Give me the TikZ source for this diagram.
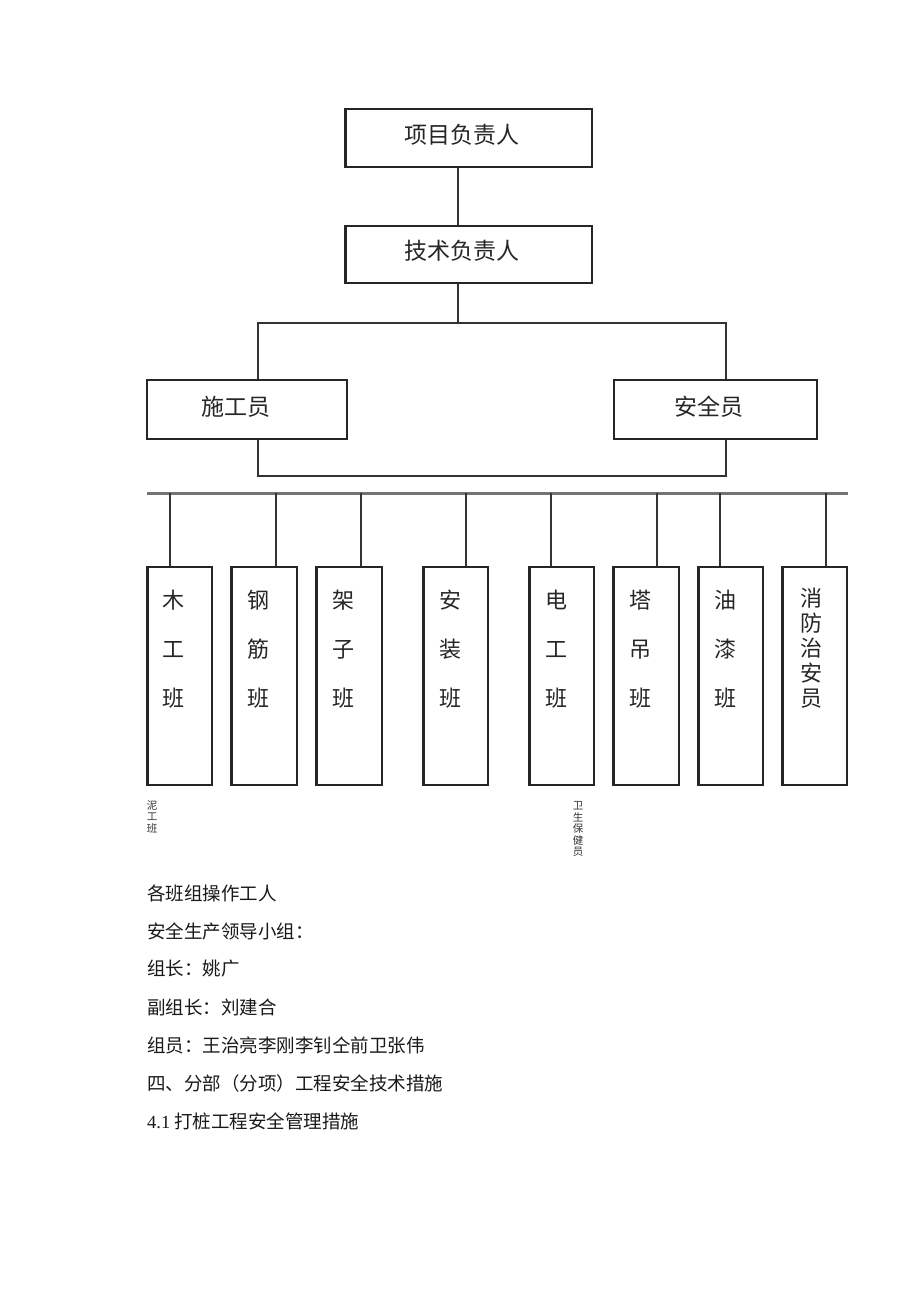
\documentclass[tikz,border=0pt]{standalone}
\usepackage{fontspec}
\setmainfont{Liberation Serif}
\newfontfamily\cjk{Noto Sans CJK SC}
\begin{document}
\begin{tikzpicture}[x=1pt,y=-1pt,
  box/.style={draw=black!85, line width=1.5pt, rectangle, inner sep=0pt},
  ln/.style={draw=black!80, line width=1.5pt},
  barln/.style={draw=black!55, line width=3pt},
  big/.style={font=\cjk\fontsize{23}{26}\selectfont, text=black!85},
  vt3/.style={font=\cjk\fontsize{22}{49}\selectfont, align=center, text=black!85, inner sep=0pt},
  vt5/.style={font=\cjk\fontsize{22}{25}\selectfont, align=center, text=black!85, inner sep=0pt},
  small/.style={font=\cjk\fontsize{10.5}{11.6}\selectfont, align=center, text=black!80, inner sep=0pt},
  para/.style={font=\cjk\fontsize{18.5}{22}\selectfont, anchor=west, inner sep=0pt, text=black!90}
]
\useasboundingbox (0,0) rectangle (920,1302);
\fill[white] (0,0) rectangle (920,1302);

% top boxes
\node[box, minimum width=246pt, minimum height=58pt] (pm) at (469,138) {};
\node[big] (pmt) at (462,135) {项目负责人};
\node[box, minimum width=246pt, minimum height=57pt] (tech) at (469,254.5) {};
\node[big] (techt) at (462,251) {技术负责人};
\draw[line width=3pt, black!85] (pm.north west) -- (pm.south west);
\draw[line width=3pt, black!85] (tech.north west) -- (tech.south west);
\draw[ln] (pm.south -| 458,0) -- (tech.north -| 458,0);

% middle boxes
\node[box, minimum width=200pt, minimum height=59pt] (sg) at (247,409.5) {};
\node[big] (sgt) at (236,407) {施工员};
\node[box, minimum width=203pt, minimum height=59pt] (aq) at (715.5,409.5) {};
\node[big] (aqt) at (709,407) {安全员};

\coordinate (cL) at (258,323);
\coordinate (cR) at (726,323);
\coordinate (cM) at (458,323);
\draw[ln] (tech.south -| cM) -- (cM);
\draw[ln] (sg.north -| cL) -- (cL) -- (cR) -- (aq.north -| cR);

\coordinate (bL) at (258,476);
\coordinate (bR) at (726,476);
\draw[ln] (sg.south -| bL) -- (bL) -- (bR) -- (aq.south -| bR);

% long bar
\coordinate (barL) at (147,493);
\coordinate (barR) at (848,493);
\draw[barln] (barL) -- (barR);

% team boxes
\foreach \n/\xl/\xr/\dx in {1/148/212/170, 2/232/297/276, 3/317/382/361, 4/424/488/466, 5/530/594/551, 6/614/679/657, 7/699/763/720, 8/783/847/826} {
  \node[box, minimum width={\xr-\xl}, minimum height=218pt] (b\n) at ({(\xl+\xr)/2},676) {};
  \draw[line width=2.6pt, black!85] (b\n.north west) -- (b\n.south west);
  \coordinate (d\n) at (\dx,493);
  \draw[ln, line width=1.4pt] (d\n) -- (b\n.north -| d\n);
}

\node[vt3] (t1) at (173,649) {木\\工\\班};
\node[vt3] (t2) at (258,649) {钢\\筋\\班};
\node[vt3] (t3) at (343,649) {架\\子\\班};
\node[vt3] (t4) at (450,649) {安\\装\\班};
\node[vt3] (t5) at (556,649) {电\\工\\班};
\node[vt3] (t6) at (640,649) {塔\\吊\\班};
\node[vt3] (t7) at (725,649) {油\\漆\\班};
\node[vt5] (t8) at (811,648) {消\\防\\治\\安\\员};

% small labels
\node[small] (s1) at (152,817) {泥\\工\\班};
\node[small] (s2) at (578,829) {卫\\生\\保\\健\\员};

% paragraph text
\node[para] (p1) at (147,893) {各班组操作工人};
\node[para] (p2) at (147,931) {安全生产领导小组：};
\node[para] (p3) at (147,969) {组长：姚广};
\node[para] (p4) at (147,1007) {副组长：刘建合};
\node[para] (p5) at (147,1045) {组员：王治亮李刚李钊仝前卫张伟};
\node[para] (p6) at (147,1083) {四、分部（分项）工程安全技术措施};
\node[para] (p7) at (147,1121) {{\rmfamily\fontsize{18.5}{22}\selectfont 4.1} 打桩工程安全管理措施};
\end{tikzpicture}
\end{document}
